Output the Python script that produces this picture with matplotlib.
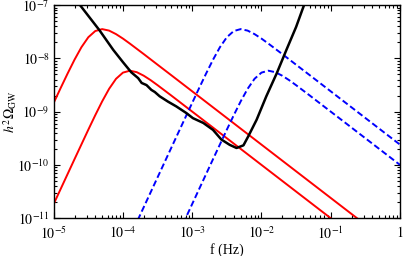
import numpy as np
import matplotlib
matplotlib.use('Agg')
import matplotlib.pyplot as plt
from matplotlib.ticker import LogLocator, FixedLocator, FixedFormatter, NullFormatter

#図の書式 (Times調)
plt.rcParams['font.family'] = 'serif'
plt.rcParams['font.serif'] = ['Liberation Serif', 'DejaVu Serif']
plt.rcParams['mathtext.fontset'] = 'stix'
plt.rcParams['font.size'] = 10

#データ (log10 f [Hz], log10 h^2 Omega_GW) 図から読み取り
red1_logf = [-5.0, -4.9, -4.8, -4.7, -4.6, -4.5, -4.4, -4.3, -4.2, -4.1, -4.0, -3.9,
             -3.7, -3.5, -3.3, -2.8, -2.3, -1.3, -0.5]
red1_logw = [-8.833, -8.556, -8.285, -8.025, -7.790, -7.602, -7.486, -7.45, -7.478, -7.544,
             -7.628, -7.722, -7.918, -8.118, -8.317, -8.817, -9.317, -10.317, -11.117]

red2_logf = [-5.0, -4.9, -4.7, -4.5, -4.4, -4.3, -4.2, -4.1, -4.0, -3.9, -3.8, -3.7,
             -3.6, -3.5, -3.3, -3.1, -2.9, -2.4, -1.9, -0.9]
red2_logw = [-10.73, -10.45, -9.891, -9.336, -9.065, -8.805, -8.570, -8.382, -8.266, -8.23,
             -8.258, -8.324, -8.408, -8.502, -8.698, -8.898, -9.097, -9.597, -10.097, -11.097]

blue1_logf = [-3.9, -3.7, -3.5, -3.3, -3.1, -2.9, -2.8, -2.7, -2.6, -2.5, -2.4, -2.3,
              -2.2, -2.1, -2.0, -1.9, -1.7, -1.5, -1.3, -0.8, -0.3, 0.0]
blue1_logw = [-11.35, -10.79, -10.23, -9.67, -9.111, -8.556, -8.285, -8.025, -7.790, -7.602,
              -7.486, -7.45, -7.478, -7.544, -7.628, -7.722, -7.918, -8.118, -8.317, -8.817,
              -9.317, -9.617]

blue2_logf = [-3.3, -3.1, -2.9, -2.7, -2.5, -2.4, -2.3, -2.2, -2.1, -2.0, -1.9, -1.8,
              -1.7, -1.6, -1.5, -1.3, -1.1, -0.9, -0.4, 0.0]
blue2_logw = [-11.57, -11.01, -10.45, -9.891, -9.336, -9.065, -8.805, -8.570, -8.382, -8.266,
              -8.23, -8.258, -8.324, -8.408, -8.502, -8.698, -8.898, -9.097, -9.597, -9.997]

#感度曲線
sens_logf = [-4.65, -4.34, -4.14, -4.0, -3.88, -3.78, -3.73, -3.66, -3.59, -3.54, -3.47,
             -3.35, -3.23, -3.09, -2.99, -2.84, -2.70, -2.58, -2.46, -2.36, -2.26, -2.19,
             -2.07, -1.93, -1.78, -1.64, -1.50, -1.38]
sens_logw = [-6.95, -7.47, -7.84, -8.07, -8.26, -8.37, -8.46, -8.50, -8.59, -8.63, -8.71,
             -8.81, -8.90, -9.02, -9.12, -9.21, -9.34, -9.52, -9.62, -9.68, -9.63, -9.46,
             -9.15, -8.71, -8.28, -7.84, -7.41, -6.98]

xtick_vals = [1e-5, 1e-4, 1e-3, 1e-2, 1e-1, 1]
xtick_labels = [r'$10^{-5}$', r'$10^{-4}$', r'$10^{-3}$', r'$10^{-2}$', r'$10^{-1}$', r'$1$']
ytick_vals = [1e-11, 1e-10, 1e-9, 1e-8, 1e-7]
ytick_labels = [r'$10^{-11}$', r'$10^{-10}$', r'$10^{-9}$', r'$10^{-8}$', r'$10^{-7}$']

fig = plt.figure(figsize=(4.05, 2.56), dpi=100)
ax = fig.add_axes([0.1326, 0.147, 0.855, 0.833])

def p(lf, lw):
    return 10**np.array(lf), 10**np.array(lw)

ax.plot(*p(red1_logf, red1_logw), color='red', lw=1.4)
ax.plot(*p(red2_logf, red2_logw), color='red', lw=1.4)
ax.plot(*p(blue1_logf, blue1_logw), color='blue', lw=1.4, ls=(0, (3.2, 1.6)))
ax.plot(*p(blue2_logf, blue2_logw), color='blue', lw=1.4, ls=(0, (3.2, 1.6)))
ax.plot(*p(sens_logf, sens_logw), color='black', lw=1.8)

ax.set_xscale('log')
ax.set_yscale('log')
ax.set_xlim(1e-5, 1)
ax.set_ylim(1e-11, 1e-7)

ax.xaxis.set_major_locator(FixedLocator(xtick_vals))
ax.xaxis.set_major_formatter(FixedFormatter(xtick_labels))
ax.yaxis.set_major_locator(FixedLocator(ytick_vals))
ax.yaxis.set_major_formatter(FixedFormatter(ytick_labels))
ax.xaxis.set_minor_locator(LogLocator(base=10, subs=np.arange(2, 10), numticks=20))
ax.yaxis.set_minor_locator(LogLocator(base=10, subs=np.arange(2, 10), numticks=20))
ax.xaxis.set_minor_formatter(NullFormatter())
ax.yaxis.set_minor_formatter(NullFormatter())
ax.tick_params(which='both', direction='in', top=True, right=True, width=0.8)
ax.tick_params(which='major', length=4)
ax.tick_params(axis='x', which='major', pad=5)
ax.tick_params(axis='y', which='major', pad=3)
ax.tick_params(which='minor', length=2)
for s in ax.spines.values():
    s.set_linewidth(1.0)

ax.set_xlabel('f (Hz)')
ax.set_ylabel(r'$h^2\Omega_{\rm GW}$')
ax.xaxis.set_label_coords(0.5, -0.115)
ax.yaxis.set_label_coords(-0.1, 0.5)

fig.savefig('out.png', dpi=100)
